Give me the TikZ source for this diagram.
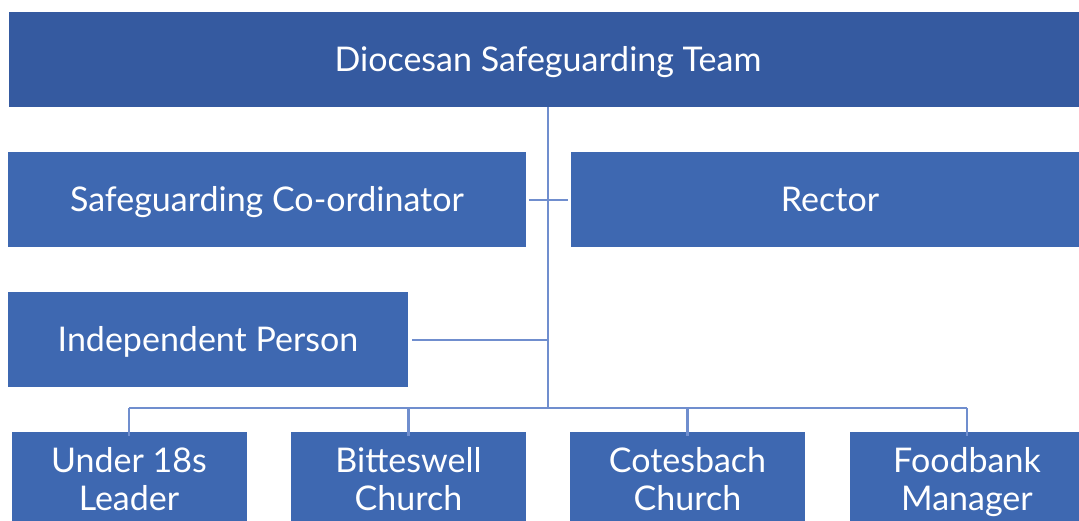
\documentclass[tikz,border=0pt]{standalone}
\usepackage{fontspec}
\setmainfont{Lato}
\definecolor{topblue}{RGB}{53,90,160}
\definecolor{boxblue}{RGB}{62,104,177}
\definecolor{linkblue}{RGB}{112,142,206}
\begin{document}
\begin{tikzpicture}[x=1pt,y=-1pt,
  box/.style={rectangle,fill=boxblue,draw=none,text=white,inner sep=0pt,align=center,
    minimum height=95pt,font=\fontsize{34}{38}\selectfont,text height=24.5pt,text depth=0pt},
  twoline/.style={box,minimum width=235pt,text height=62.5pt,text depth=0pt},
  link/.style={draw=linkblue,line width=2.6pt}]
\useasboundingbox (0,0) rectangle (1079,520);
\clip (0,0) rectangle (1079,520);
\node[box,fill=topblue,minimum width=1078pt] (dst) at (548,59.5) {Diocesan Safeguarding Team};
\node[box,minimum width=518pt] (sc) at (267,199.5) {Safeguarding Co-ordinator};
\node[box,minimum width=518pt] (rec) at (830,199.5) {Rector};
\node[box,minimum width=400pt] (ip) at (208,339.5) {Independent Person};
\node[twoline] (u18) at (129,479.5) {Under 18s\\Leader};
\node[twoline] (bit) at (408.5,479.5) {Bitteswell\\Church};
\node[twoline] (cot) at (687.5,479.5) {Cotesbach\\Church};
\node[twoline] (fb) at (967,479.5) {Foodbank\\Manager};
\coordinate (bus) at (548,408);
\coordinate (scj) at (548,200);
\coordinate (ipj) at (548,340);
\draw[link] (dst.south -| bus) -- (bus);
\draw[link] ([xshift=3pt]sc.east |- scj) -- ([xshift=-3pt]rec.west |- scj);
\draw[link] ([xshift=4pt]ip.east |- ipj) -- (ipj);
\draw[link] (u18.north |- bus) -- (fb.north |- bus);
\foreach \n in {u18,bit,cot,fb}
  \draw[link] (\n.north |- bus) -- ([yshift=-4pt]\n.north);
\end{tikzpicture}
\end{document}
